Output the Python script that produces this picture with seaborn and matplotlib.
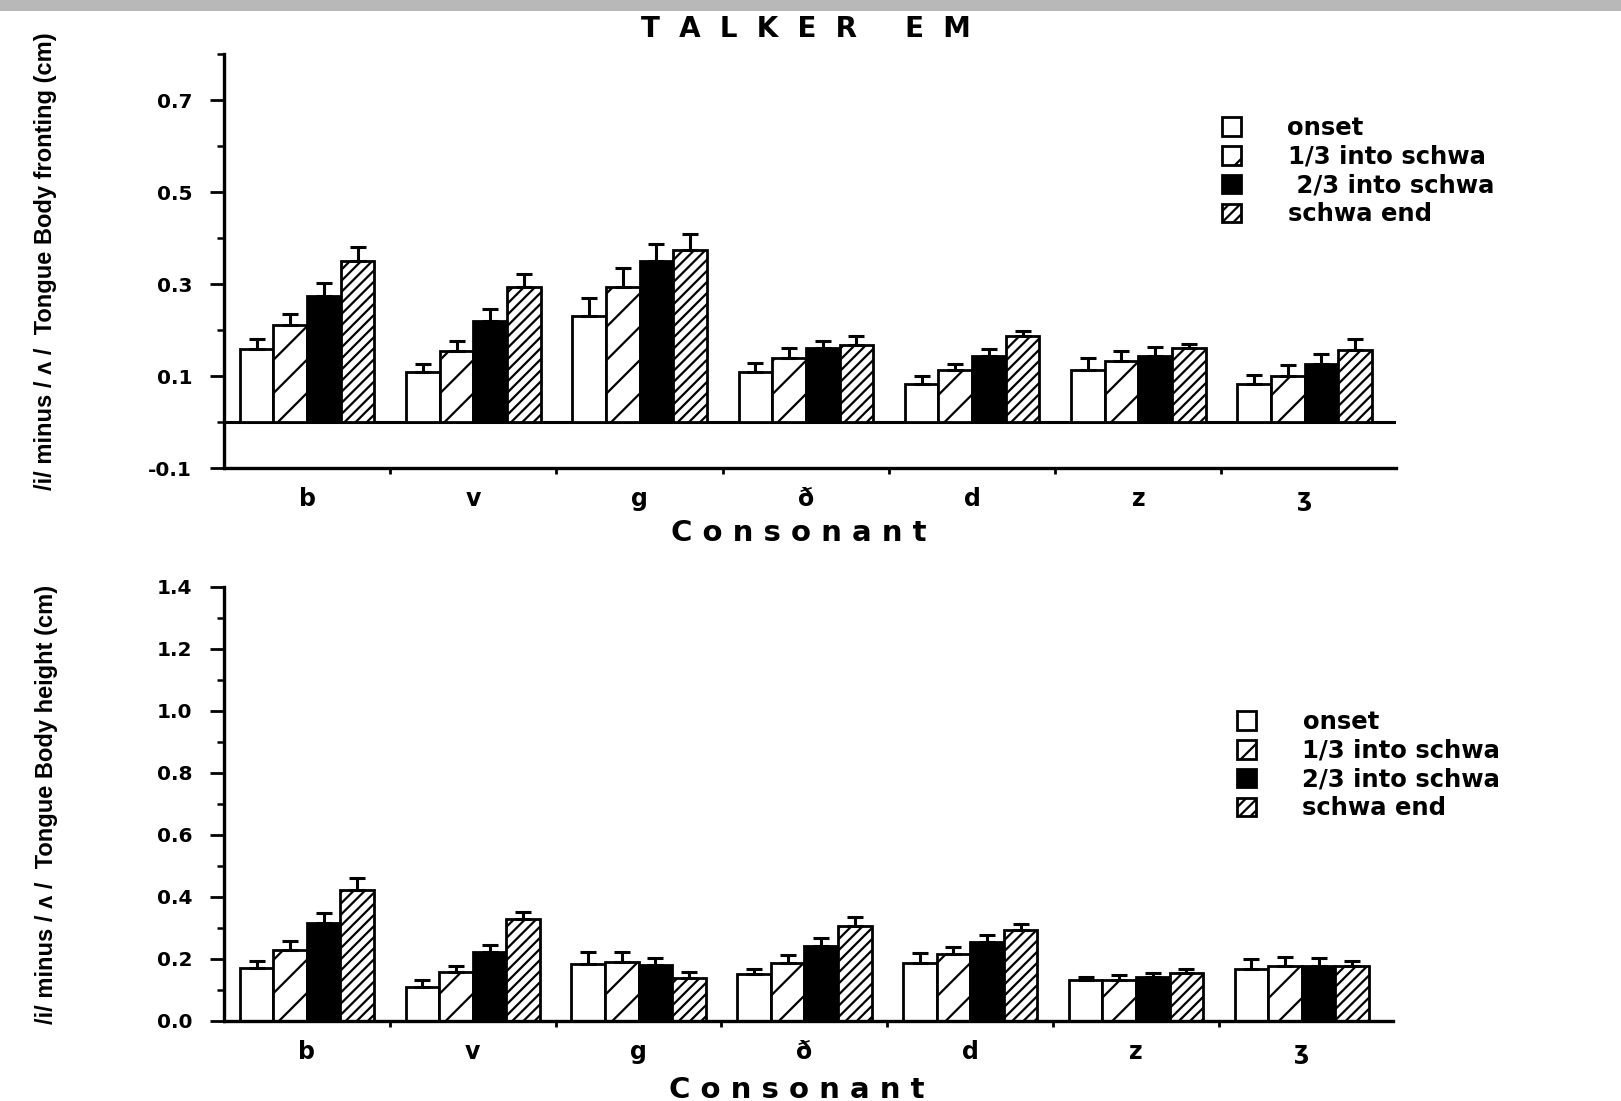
import numpy as np
import pandas as pd
import seaborn as sns
import matplotlib.pyplot as plt
from matplotlib.patches import Patch, Rectangle
from matplotlib.ticker import MultipleLocator, FixedLocator

# ---- data ----
consonants = ["b", "v", "g", "ð", "d", "z", "ʒ"]
phases = ["onset", "1/3 into schwa", "2/3 into schwa", "schwa end"]

# top panel: tongue body fronting (cm)
front_onset = [0.158, 0.109, 0.230, 0.108, 0.083, 0.114, 0.083]
front_third = [0.211, 0.154, 0.294, 0.139, 0.112, 0.133, 0.101]
front_twothird = [0.275, 0.220, 0.351, 0.160, 0.144, 0.144, 0.126]
front_end = [0.351, 0.294, 0.375, 0.168, 0.187, 0.160, 0.157]
front_onset_err = [0.022, 0.017, 0.039, 0.021, 0.017, 0.025, 0.019]
front_third_err = [0.023, 0.022, 0.040, 0.021, 0.015, 0.022, 0.024]
front_twothird_err = [0.028, 0.025, 0.037, 0.016, 0.014, 0.018, 0.022]
front_end_err = [0.029, 0.028, 0.034, 0.019, 0.011, 0.009, 0.023]

# bottom panel: tongue body height (cm)
height_onset = [0.170, 0.109, 0.185, 0.153, 0.187, 0.131, 0.167]
height_third = [0.230, 0.159, 0.190, 0.187, 0.217, 0.131, 0.176]
height_twothird = [0.316, 0.224, 0.181, 0.243, 0.254, 0.142, 0.179]
height_end = [0.422, 0.330, 0.140, 0.308, 0.293, 0.156, 0.176]
height_onset_err = [0.023, 0.022, 0.036, 0.015, 0.031, 0.011, 0.033]
height_third_err = [0.028, 0.020, 0.031, 0.025, 0.023, 0.017, 0.030]
height_twothird_err = [0.033, 0.022, 0.023, 0.026, 0.023, 0.014, 0.023]
height_end_err = [0.040, 0.023, 0.017, 0.027, 0.019, 0.011, 0.017]

fills = ["white", "white", "black", "white"]
hatches = ["", "/", "", "///"]


def make_df(series, errs):
    rows = []
    for ph, vals, ers in zip(phases, series, errs):
        for c, v, e in zip(consonants, vals, ers):
            rows.append({"consonant": c, "phase": ph, "value": v, "err": e})
    return pd.DataFrame(rows)


front_df = make_df([front_onset, front_third, front_twothird, front_end],
                   [front_onset_err, front_third_err, front_twothird_err, front_end_err])
height_df = make_df([height_onset, height_third, height_twothird, height_end],
                    [height_onset_err, height_third_err, height_twothird_err, height_end_err])

sns.set_theme(style="ticks")
plt.rcParams["font.family"] = ["DejaVu Sans"]
plt.rcParams["hatch.linewidth"] = 1.6
plt.rcParams["hatch.color"] = "black"
for key in ["text.color", "axes.labelcolor", "xtick.color", "ytick.color", "axes.edgecolor"]:
    plt.rcParams[key] = "black"

W, H = 1621, 1101
fig = plt.figure(figsize=(W / 100, H / 100), dpi=100)


def px_axes(left, top, right, bottom):
    return fig.add_axes([left / W, 1 - bottom / H, (right - left) / W, (bottom - top) / H])


def draw_panel(ax, df, ylim, major, minor, ylabel, legend_pos, labels):
    sns.barplot(data=df, x="consonant", y="value", hue="phase", order=consonants,
                hue_order=phases, palette=fills, edgecolor="black", linewidth=2,
                width=0.81, errorbar=None, ax=ax, zorder=2)
    # hatching + error bars (upper only)
    bar_conts = list(ax.containers)
    for i, cont in enumerate(bar_conts):
        sub = df[df["phase"] == phases[i]].set_index("consonant").loc[consonants]
        xs, ys = [], []
        for bar in cont:
            bar.set_hatch(hatches[i])
            xs.append(bar.get_x() + bar.get_width() / 2)
            ys.append(bar.get_height())
        ax.errorbar(xs, ys, yerr=[np.zeros(len(xs)), sub["err"].values], fmt="none",
                    ecolor="black", elinewidth=2.2, capsize=6, capthick=2.2, zorder=3)
    ax.get_legend().remove()

    ax.set_xlim(-0.5, 6.55)
    ax.set_ylim(*ylim)
    ax.yaxis.set_major_locator(FixedLocator(major))
    ax.yaxis.set_minor_locator(MultipleLocator(minor))
    ax.yaxis.set_major_formatter(plt.FuncFormatter(lambda v, p: f"{v:.1f}"))
    ax.xaxis.set_minor_locator(FixedLocator([0.5, 1.5, 2.5, 3.5, 4.5, 5.5]))

    sns.despine(ax=ax)
    for s in ["left", "bottom"]:
        ax.spines[s].set_linewidth(2.4)
    ax.tick_params(axis="y", which="major", length=10, width=2, pad=13, labelsize=14.5)
    ax.tick_params(axis="y", which="minor", length=5, width=1.8)
    ax.tick_params(axis="x", which="major", length=0, pad=14, labelsize=17)
    ax.tick_params(axis="x", which="minor", length=4, width=2)
    for t in ax.get_xticklabels() + ax.get_yticklabels():
        t.set_fontweight("bold")

    ax.set_xlabel("C o n s o n a n t", fontsize=21, fontweight="bold")
    ax.xaxis.label.set_va("center")
    ax.xaxis.set_label_coords(0.49, -0.158)
    ax.set_ylabel(ylabel, fontsize=17, fontweight="bold",
                  family=["Liberation Sans Narrow", "Liberation Sans", "DejaVu Sans"])
    ax.yaxis.set_label_coords(-0.152, 0.5)
    ax.yaxis.label.set_va("center")

    handles = [Patch(facecolor=f, edgecolor="black", linewidth=2, hatch=h)
               for f, h in zip(fills, hatches)]
    ax.legend(handles, labels, loc="upper left", bbox_to_anchor=legend_pos,
              bbox_transform=fig.transFigure, frameon=False, handlelength=0.8,
              handleheight=0.8, handletextpad=1.9, labelspacing=0.2,
              prop={"weight": "bold", "size": 17.5})


ax1 = px_axes(224, 54, 1396, 468)
draw_panel(ax1, front_df, (-0.1, 0.8), [-0.1, 0.1, 0.3, 0.5, 0.7], 0.1,
           "/i/ minus / ʌ /  Tongue Body fronting (cm)",
           (1200 / W, 1 - 94 / H),
           ["onset", "1/3 into schwa", " 2/3 into schwa", "schwa end"])
ax1.axhline(0, color="black", lw=2.2, zorder=1)

ax2 = px_axes(224, 587, 1393, 1021)
draw_panel(ax2, height_df, (0, 1.4), np.arange(0, 1.41, 0.2), 0.1,
           "/i/ minus / ʌ /  Tongue Body height (cm)",
           (1215 / W, 1 - 688 / H),
           ["onset", "1/3 into schwa", "2/3 into schwa", "schwa end"])

fig.text(806 / W, 1 - 29 / H, "T  A  L  K  E  R     E  M", ha="center", va="center",
         fontsize=20, fontweight="bold")
# grey strip along the top edge of the scan
fig.patches.append(Rectangle((0, 1 - 11 / H), 1, 11 / H, transform=fig.transFigure,
                             facecolor="#b8b8b8", edgecolor="none", zorder=0))

fig.savefig("out.png", dpi=100, facecolor="white")
